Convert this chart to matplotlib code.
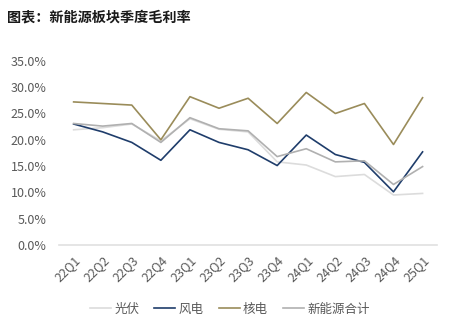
import matplotlib
matplotlib.use("Agg")
import matplotlib.pyplot as plt
from matplotlib.ticker import PercentFormatter

plt.rcParams["font.family"] = ["Noto Sans CJK SC", "DejaVu Sans"]

# Data (gross margin, %)
quarters = ["22Q1", "22Q2", "22Q3", "22Q4", "23Q1", "23Q2", "23Q3",
            "23Q4", "24Q1", "24Q2", "24Q3", "24Q4", "25Q1"]
solar = [21.9, 22.3, 23.0, 19.8, 24.0, 22.0, 21.5, 15.8, 15.2, 13.0, 13.4, 9.5, 9.8]
wind = [23.0, 21.5, 19.5, 16.1, 21.9, 19.5, 18.1, 15.1, 20.9, 17.2, 15.7, 10.1, 17.7]
nuclear = [27.2, 26.9, 26.6, 20.0, 28.2, 26.0, 27.9, 23.1, 29.0, 25.0, 26.9, 19.1, 28.0]
total = [23.1, 22.6, 23.1, 19.5, 24.2, 22.1, 21.7, 16.8, 18.3, 15.8, 16.0, 11.5, 14.9]

fig = plt.figure(figsize=(4.69, 3.24), dpi=100)
ax = fig.add_axes([0.126, 0.244, 0.806, 0.568])

x = range(len(quarters))
ax.plot(x, solar, color="#dcdcdc", lw=1.2, label="光伏")
ax.plot(x, wind, color="#1f3d6b", lw=1.2, label="风电")
ax.plot(x, nuclear, color="#9a8c5a", lw=1.2, label="核电")
ax.plot(x, total, color="#b0b0b0", lw=1.2, label="新能源合计")

ax.set_xlim(-0.5, len(quarters) - 0.5)
ax.set_ylim(0, 35)
ax.set_yticks([0, 5, 10, 15, 20, 25, 30, 35])
ax.yaxis.set_major_formatter(PercentFormatter(decimals=1))
ax.set_xticks(list(x))
ax.set_xticklabels(quarters, rotation=45, ha="right", rotation_mode="anchor")

for s in ["top", "right", "left"]:
    ax.spines[s].set_visible(False)
ax.spines["bottom"].set_color("#e0e0e0")
ax.spines["bottom"].set_linewidth(1.2)
ax.tick_params(axis="both", length=0, colors="#595959", labelsize=9)
ax.tick_params(axis="y", pad=9)
ax.tick_params(axis="x", pad=6)

fig.text(0.015, 0.945, "图表：新能源板块季度毛利率", fontsize=10.2,
         fontweight="bold", color="#1a1a1a", va="center")

fig.legend(loc="center", bbox_to_anchor=(0.49, 0.046), ncol=4, frameon=False,
           fontsize=9, handlelength=1.7, columnspacing=1.2, handletextpad=0.25,
           labelcolor="#595959")

fig.savefig("out.png", dpi=100)
